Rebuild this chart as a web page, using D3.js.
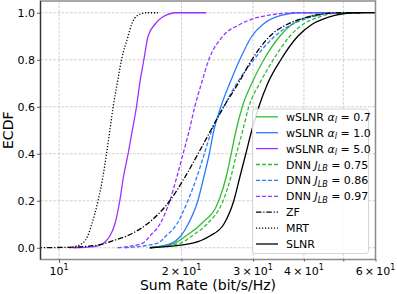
<!DOCTYPE html>
<html>
<head>
<meta charset="utf-8">
<script src="https://cdn.jsdelivr.net/npm/d3@7"></script>
<style>
    body { margin: 0; background: #fff; }
    svg { display: block; font-family: "DejaVu Sans", sans-serif; }
</style>
</head>
<body>
<svg id="chart" width="397" height="294"></svg>
<script>
// ECDF curves as [sum rate, F] pairs
var wslnr07 = [[16.71, 0], [19.26, 0.02], [20.49, 0.05], [22.31, 0.1], [24.70, 0.2], [25.75, 0.3], [26.50, 0.4], [27.25, 0.5], [28.22, 0.6], [29.78, 0.7], [31.87, 0.8], [34.90, 0.9], [37.35, 0.95], [40.43, 0.98], [47.65, 1], [54.9, 1]];
var wslnr10 = [[16.71, 0], [18.93, 0.02], [19.92, 0.05], [20.76, 0.1], [21.94, 0.2], [22.69, 0.3], [23.41, 0.4], [24.02, 0.5], [24.99, 0.6], [26.29, 0.7], [27.82, 0.8], [29.78, 0.9], [31.69, 0.95], [33.92, 0.98], [39.08, 1], [49.01, 1]];
var wslnr50 = [[10.81, 0], [12.24, 0.005], [12.88, 0.02], [13.33, 0.05], [13.71, 0.1], [14.10, 0.2], [14.39, 0.3], [14.78, 0.4], [15.14, 0.5], [15.50, 0.6], [15.79, 0.7], [16.16, 0.8], [16.55, 0.9], [17.19, 0.95], [17.89, 0.98], [19.44, 1], [23.0, 1]];
var dnn075 = [[16.71, 0], [19.92, 0.02], [21.20, 0.05], [23.08, 0.1], [25.31, 0.2], [26.44, 0.3], [27.31, 0.4], [28.30, 0.5], [29.28, 0.6], [31.16, 0.7], [33.63, 0.8], [36.93, 0.9], [39.75, 0.95], [43.28, 0.98], [49.01, 1], [56.48, 1]];
var dnn086 = [[14.51, 0], [17.49, 0.02], [18.30, 0.05], [19.47, 0.1], [20.73, 0.2], [21.81, 0.3], [22.76, 0.4], [23.74, 0.5], [25.41, 0.6], [27.36, 0.7], [30.12, 0.8], [33.92, 0.9], [37.35, 0.95], [41.36, 0.98], [49.01, 1], [54.9, 1]];
var dnn097 = [[13.94, 0], [16.09, 0.02], [16.71, 0.05], [17.69, 0.1], [18.72, 0.2], [19.47, 0.3], [20.18, 0.4], [20.90, 0.5], [21.56, 0.6], [22.40, 0.7], [23.34, 0.8], [25.27, 0.9], [27.82, 0.95], [30.81, 0.98], [38.42, 1], [49.01, 1]];
var zf = [[8.8, 0], [10.93, 0.003], [12.59, 0.013], [13.58, 0.03], [14.67, 0.05], [16.43, 0.1], [17.69, 0.15], [18.72, 0.2], [20.38, 0.3], [21.97, 0.4], [23.61, 0.5], [25.41, 0.6], [27.59, 0.7], [29.78, 0.8], [32.97, 0.9], [36.31, 0.95], [40.66, 0.98], [49.01, 1], [54.9, 1]];
var mrt = [[10.62, 0], [11.44, 0.02], [11.76, 0.05], [12.03, 0.1], [12.47, 0.2], [12.81, 0.3], [13.08, 0.4], [13.33, 0.5], [13.58, 0.6], [13.90, 0.7], [14.24, 0.8], [14.78, 0.9], [15.07, 0.95], [15.64, 0.99], [16.40, 1], [17.49, 1]];
var slnr = [[16.71, 0], [21.32, 0.02], [23.48, 0.05], [25.41, 0.1], [26.89, 0.2], [27.82, 0.3], [28.79, 0.4], [29.78, 0.5], [30.99, 0.6], [32.60, 0.7], [35.10, 0.8], [38.64, 0.9], [41.83, 0.95], [45.80, 0.98], [53.36, 1], [62, 1]];

var xTicks = [10, 20, 30, 40, 50, 60];
var xTickLabels = ['10|1', '2\u2009×\u200910|1', '3\u2009×\u200910|1', '4\u2009×\u200910|1', '', '6\u2009×\u200910|1'];
var yTicks = [0, 0.2, 0.4, 0.6, 0.8, 1.0];

var GREEN = '#33bb33', BLUE = '#2b7bff', PURPLE = '#9933ff', BLACK = '#000';
var DASH = '4,2', DASHDOT = '5.5,1.8,1.2,1.8', DOT = '1.2,1.8';

// legend label parts: [text, kind]  kind: '' normal, 'i' italic, 's' italic subscript
var series = [
    { data: wslnr07, color: GREEN, dash: null, label: [['wSLNR ', ''], ['α', 'i'], ['l', 's'], [' = 0.7', '']] },
    { data: wslnr10, color: BLUE, dash: null, label: [['wSLNR ', ''], ['α', 'i'], ['l', 's'], [' = 1.0', '']] },
    { data: wslnr50, color: PURPLE, dash: null, label: [['wSLNR ', ''], ['α', 'i'], ['l', 's'], [' = 5.0', '']] },
    { data: dnn075, color: GREEN, dash: DASH, label: [['DNN ', ''], ['J', 'i'], ['LB', 's'], [' = 0.75', '']] },
    { data: dnn086, color: BLUE, dash: DASH, label: [['DNN ', ''], ['J', 'i'], ['LB', 's'], [' = 0.86', '']] },
    { data: dnn097, color: PURPLE, dash: DASH, label: [['DNN ', ''], ['J', 'i'], ['LB', 's'], [' = 0.97', '']] },
    { data: zf, color: BLACK, dash: DASHDOT, label: [['ZF', '']] },
    { data: mrt, color: BLACK, dash: DOT, label: [['MRT', '']] },
    { data: slnr, color: BLACK, dash: null, label: [['SLNR', '']] }
];

var pl = 40.5, pr = 375.5, pt = 1, pb = 259.5;

var svg = d3.select('#chart');

var x = d3.scaleLog().domain([9, 60]).range([pl, pr]);
var y = d3.scaleLinear().domain([-0.05, 1.05]).range([pb, pt]);

svg.append('defs').append('clipPath').attr('id', 'plotclip')
    .append('rect')
    .attr('x', pl).attr('y', pt)
    .attr('width', pr - pl).attr('height', pb - pt);

// grid
var grid = svg.append('g').attr('class', 'grid')
    .attr('stroke', '#c4c4c4').attr('stroke-width', 0.8).attr('stroke-dasharray', '2.8,1.4');
xTicks.forEach(function (t) {
    grid.append('line').attr('x1', x(t)).attr('x2', x(t)).attr('y1', pt).attr('y2', pb);
});
yTicks.forEach(function (t) {
    grid.append('line').attr('x1', pl).attr('x2', pr).attr('y1', y(t)).attr('y2', y(t));
});

// curves
var line = d3.line()
    .x(function (d) { return x(d[0]); })
    .y(function (d) { return y(d[1]); })
    .curve(d3.curveMonotoneX);

var curves = svg.append('g').attr('clip-path', 'url(#plotclip)');
series.forEach(function (s) {
    curves.append('path')
        .datum(s.data)
        .attr('d', line)
        .attr('fill', 'none')
        .attr('stroke', s.color)
        .attr('stroke-width', 1.3)
        .attr('stroke-dasharray', s.dash);
});

// frame
svg.append('rect')
    .attr('x', pl).attr('y', pt)
    .attr('width', pr - pl).attr('height', pb - pt)
    .attr('fill', 'none').attr('stroke', '#8c8c8c').attr('stroke-width', 1.5);
svg.append('line')
    .attr('x1', pl).attr('x2', pl).attr('y1', pt).attr('y2', pb)
    .attr('stroke', '#333').attr('stroke-width', 1.2);

// x axis
var xAxis = d3.axisBottom(x).tickValues(xTicks).tickFormat('')
    .tickSize(0);
var gx = svg.append('g').attr('transform', 'translate(0,' + pb + ')').call(xAxis);
gx.select('.domain').remove();
gx.selectAll('.tick').append('line')
    .attr('y1', 0)
    .attr('y2', function (d) { return d === 10 ? 3.5 : 2; })
    .attr('stroke', '#333').attr('stroke-width', 0.8);

xTicks.forEach(function (t, i) {
    var lab = xTickLabels[i];
    if (!lab) return;
    var parts = lab.split('|');
    var txt = svg.append('text')
        .attr('x', x(t)).attr('y', 274.5)
        .attr('text-anchor', 'middle')
        .attr('font-size', 11)
        .attr('fill', '#000');
    txt.append('tspan').text(parts[0]);
    txt.append('tspan').attr('dy', -5).attr('font-size', 8).text(parts[1]);
});

// y axis
var yAxis = d3.axisLeft(y).tickValues(yTicks).tickSize(3.5).tickPadding(2)
    .tickFormat(d3.format('.1f'));
var gy = svg.append('g').attr('transform', 'translate(' + pl + ',0)').call(yAxis);
gy.select('.domain').remove();
gy.selectAll('.tick line').attr('stroke', '#333').attr('stroke-width', 0.8);
gy.selectAll('.tick text')
    .attr('font-family', '"DejaVu Sans", sans-serif')
    .attr('font-size', 11)
    .attr('fill', '#000');

// axis labels
svg.append('text')
    .attr('x', (pl + pr) / 2).attr('y', 290)
    .attr('text-anchor', 'middle')
    .attr('font-size', 14)
    .text('Sum Rate (bit/s/Hz)');

svg.append('text')
    .attr('transform', 'translate(13,' + ((pt + pb) / 2) + ') rotate(-90)')
    .attr('text-anchor', 'middle')
    .attr('font-size', 14)
    .text('ECDF');

// legend
var lg = svg.append('g').attr('transform', 'translate(252.5,109)');
lg.append('rect')
    .attr('width', 116).attr('height', 144.5)
    .attr('rx', 2.5)
    .attr('fill', '#fff').attr('fill-opacity', 0.85)
    .attr('stroke', '#d0d0d0').attr('stroke-width', 0.9);

series.forEach(function (s, i) {
    var cy = 7.8 + i * 15.9;
    lg.append('line')
        .attr('x1', 3.5).attr('x2', 25.5)
        .attr('y1', cy).attr('y2', cy)
        .attr('stroke', s.color).attr('stroke-width', 1.3)
        .attr('stroke-dasharray', s.dash);
    var txt = lg.append('text')
        .attr('x', 33.5).attr('y', cy + 4)
        .attr('font-size', 11);
    s.label.forEach(function (p) {
        var ts = txt.append('tspan').text(p[0]);
        if (p[1] === 'i') ts.attr('font-style', 'italic');
        if (p[1] === 's') ts.attr('font-style', 'italic').attr('font-size', 8).attr('dy', 2.5);
        if (p[1] === '' && txt.selectAll('tspan').size() > 1) ts.attr('dy', -2.5);
    });
});
</script>
</body>
</html>
